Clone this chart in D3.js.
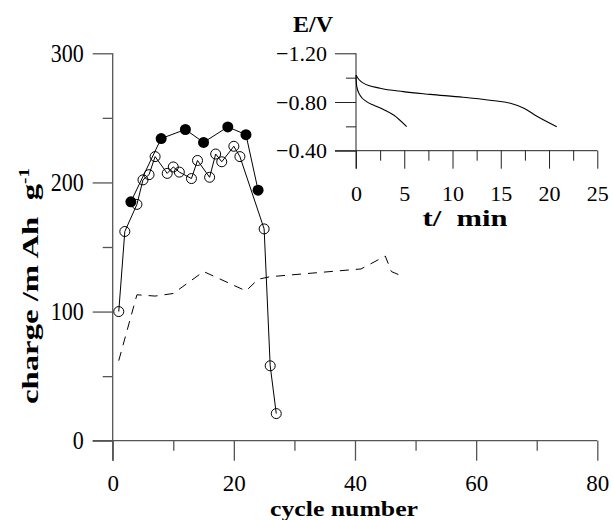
<!DOCTYPE html>
<html lang="en">
<head>
<meta charset="UTF-8">
<title>charge vs cycle number</title>
<script src="https://d3js.org/d3.v7.min.js"></script>
<style>
  body { margin: 0; background: #fff; }
  svg { display: block; font-family: "Liberation Serif", "Times New Roman", serif; }
  .axis path.domain { display: none; }
  .main-axis line, .main-axis .spine { stroke: #555; stroke-width: 1.3; }
  .inset-axis line, .inset-axis .spine { stroke: #222; stroke-width: 1; }
  .title { font-weight: bold; fill: #000; }
</style>
</head>
<body>
<script>
// main plot: charge per cycle
const openCycles  = [1, 2, 4, 5, 6, 7, 9, 10, 11, 13, 14, 16, 17, 18, 20, 21, 25, 26, 27];
const openCharge  = [100, 162, 183, 202, 206, 220, 207, 212, 208, 203, 217, 204, 222, 216, 228, 220, 164, 58, 21];
const fillCycles  = [3, 8, 12, 15, 19, 22, 24];
const fillCharge  = [185, 234, 241, 231, 243, 237, 194];
const dashCycles  = [1, 4, 7, 10, 15, 22, 24, 26, 41, 45, 46, 48];
const dashCharge  = [62, 113, 112, 114, 131, 116, 125, 127, 133, 143, 131, 127];

// inset: potential vs time
const longT  = [0, 0.3, 0.76, 2.5, 4.9, 7.7, 11.1, 14.6, 16, 17.4, 18.7, 20.8];
const longE  = [-1.02, -0.985, -0.955, -0.913, -0.885, -0.863, -0.839, -0.808, -0.789, -0.748, -0.685, -0.597];
const shortT = [0, 0.07, 0.4, 1.1, 1.8, 2.8, 3.9, 5.25];
const shortE = [-1.02, -0.93, -0.857, -0.803, -0.775, -0.74, -0.693, -0.597];

const xMajor = [0, 20, 40, 60, 80], xMinor = [10, 30, 50, 70];
const yMajor = [0, 100, 200, 300], yMinor = [50, 150, 250];
const tMajor = [0, 5, 10, 15, 20, 25], tMinor = [2.5, 7.5, 12.5, 17.5, 22.5];
const eMajor = [-1.2, -0.8, -0.4], eMinor = [-1.0, -0.6];

const serif = "'Liberation Serif', 'Times New Roman', serif";
const width = 613, height = 520;
const svg = d3.select("body").append("svg")
  .attr("width", width).attr("height", height);

const x = d3.scaleLinear().domain([0, 80]).range([112.7, 597.3]);
const y = d3.scaleLinear().domain([0, 300]).range([440.7, 53.3]);
const ix = d3.scaleLinear().domain([0, 25]).range([356, 597.3]);
const iy = d3.scaleLinear().domain([-1.2, -0.4]).range([53.3, 150.7]);

// axis helper: d3 puts sans-serif on the group, so set the serif on the labels
function put(g, axis, size) {
  const a = g.append("g").call(axis);
  a.attr("font-family", serif);
  a.selectAll("text").style("font-family", serif).style("font-size", size + "px").attr("fill", "#000");
  return a;
}

// ---- main axes
const gx = svg.append("g").attr("class", "axis main-axis")
  .attr("transform", `translate(0,${y(0)})`);
put(gx, d3.axisBottom(x).tickValues(xMajor).tickSize(20).tickPadding(14).tickFormat(d3.format("d")), 23);
put(gx, d3.axisBottom(x).tickValues(xMinor).tickSize(10).tickFormat(""), 10);
gx.append("line").attr("class", "spine").attr("x1", x(0) - 20).attr("x2", x(80));

const gy = svg.append("g").attr("class", "axis main-axis")
  .attr("transform", `translate(${x(0)},0)`);
put(gy, d3.axisLeft(y).tickValues(yMajor).tickSize(20).tickPadding(9).tickFormat(d3.format("d")), 25)
  .selectAll("text")
  .style("transform-box", "fill-box").style("transform-origin", "right center")
  .style("transform", "scaleX(0.88)");
put(gy, d3.axisLeft(y).tickValues(yMinor).tickSize(10).tickFormat(""), 10);
gy.append("line").attr("class", "spine").attr("y1", y(300)).attr("y2", y(0) + 20);

svg.append("text").attr("class", "title")
  .attr("x", 344).attr("y", 516).attr("text-anchor", "middle")
  .style("font-size", "22px")
  .attr("textLength", 148).attr("lengthAdjust", "spacingAndGlyphs")
  .text("cycle number");

const yl = svg.append("text").attr("class", "title")
  .attr("transform", "translate(38,286) rotate(-90)")
  .attr("text-anchor", "middle").style("font-size", "24px")
  .attr("textLength", 236).attr("lengthAdjust", "spacingAndGlyphs");
yl.append("tspan").text("charge /m Ah  g").style("white-space", "pre");
yl.append("tspan").attr("dy", -9).style("font-size", "14px").text("-1");

// ---- main data
const line = d3.line().x(d => x(d[0])).y(d => y(d[1]));
const openPts = d3.zip(openCycles, openCharge);
const fillPts = d3.zip(fillCycles, fillCharge);
const dashPts = d3.zip(dashCycles, dashCharge);

svg.append("path").datum(dashPts).attr("d", line)
  .attr("fill", "none").attr("stroke", "#000").attr("stroke-width", 1)
  .attr("stroke-dasharray", "9,7");

svg.append("path").datum(openPts).attr("d", line)
  .attr("fill", "none").attr("stroke", "#000").attr("stroke-width", 1);
svg.append("path").datum(fillPts).attr("d", line)
  .attr("fill", "none").attr("stroke", "#000").attr("stroke-width", 1);

svg.selectAll(".open").data(openPts).enter().append("circle")
  .attr("class", "open")
  .attr("cx", d => x(d[0])).attr("cy", d => y(d[1])).attr("r", 5)
  .attr("fill", "none").attr("stroke", "#000").attr("stroke-width", 1);

svg.selectAll(".filled").data(fillPts).enter().append("circle")
  .attr("class", "filled")
  .attr("cx", d => x(d[0])).attr("cy", d => y(d[1])).attr("r", 5.5)
  .attr("fill", "#000");

// ---- inset axes
const ia = svg.append("g").attr("class", "axis inset-axis")
  .attr("transform", `translate(0,${iy(-0.4)})`);
put(ia, d3.axisBottom(ix).tickValues(tMajor).tickSize(18).tickPadding(17).tickFormat(d3.format("d")), 22);
put(ia, d3.axisBottom(ix).tickValues(tMinor).tickSize(10).tickFormat(""), 10);
ia.append("line").attr("class", "spine").attr("x1", ix(0) - 21).attr("x2", ix(25));

const ib = svg.append("g").attr("class", "axis inset-axis")
  .attr("transform", `translate(${ix(0)},0)`);
put(ib, d3.axisLeft(iy).tickValues(eMajor).tickSize(21).tickPadding(8).tickFormat(d3.format(".2f")), 22);
put(ib, d3.axisLeft(iy).tickValues(eMinor).tickSize(10).tickFormat(""), 10);
ib.append("line").attr("class", "spine").attr("y1", iy(-1.2)).attr("y2", iy(-0.4) + 18);

svg.append("text").attr("class", "title")
  .attr("x", 313).attr("y", 32).attr("text-anchor", "middle")
  .style("font-size", "24px").text("E/V");

svg.append("text").attr("class", "title")
  .attr("x", 465).attr("y", 226).attr("text-anchor", "middle")
  .style("font-size", "24px").style("white-space", "pre")
  .attr("textLength", 85).attr("lengthAdjust", "spacingAndGlyphs")
  .text("t/  min");

const iline = d3.line().x(d => ix(d[0])).y(d => iy(d[1])).curve(d3.curveMonotoneX);
[d3.zip(longT, longE), d3.zip(shortT, shortE)].forEach(pts => {
  svg.append("path").datum(pts).attr("d", iline)
    .attr("fill", "none").attr("stroke", "#000").attr("stroke-width", 1.1);
});
</script>
</body>
</html>
